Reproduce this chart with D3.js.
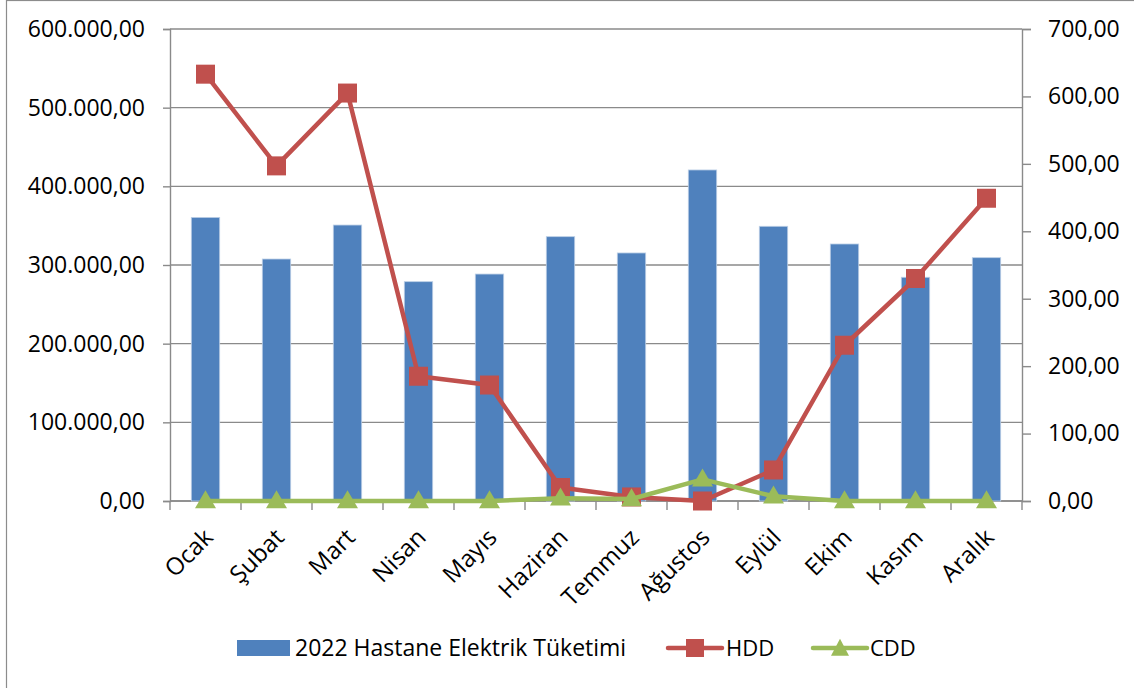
<!DOCTYPE html>
<html>
<head>
<meta charset="utf-8">
<script src="https://cdn.jsdelivr.net/npm/d3@7"></script>
<style>
  html, body { margin: 0; padding: 0; background: #fff; }
  svg { display: block; }
  text { font-family: "Open Sans", "Noto Sans", sans-serif; fill: #000; }
</style>
</head>
<body>
<svg id="chart" width="1134" height="688"></svg>
<script>
const months = ["Ocak", "Şubat", "Mart", "Nisan", "Mayıs", "Haziran", "Temmuz", "Ağustos", "Eylül", "Ekim", "Kasım", "Aralık"];
const electricity = [360500, 307600, 350800, 278800, 288500, 336000, 315300, 420800, 349200, 326700, 284400, 309300];
const hdd = [633, 497, 605, 185, 172, 20, 6, 0, 46, 231, 330, 449];
const cdd = [0, 0, 0, 0, 0, 4, 3, 32, 7, 0, 0, 0];
const leftTicks = [0, 100000, 200000, 300000, 400000, 500000, 600000];
const rightTicks = [0, 100, 200, 300, 400, 500, 600, 700];
const seriesNames = ["2022 Hastane Elektrik Tüketimi", "HDD", "CDD"];

const colors = { bar: "#4F81BD", hdd: "#C0504D", cdd: "#9BBB59", grid: "#8a8a8a" };

const trLocale = d3.formatLocale({ decimal: ",", thousands: ".", grouping: [3], currency: ["", " ₺"] });
const fmt = trLocale.format(",.2f");

const svg = d3.select("#chart");
const plot = { left: 170, right: 1022, top: 29, bottom: 501 };

// outer border
svg.append("rect").attr("x", 6.5).attr("y", 0.5).attr("width", 1200).attr("height", 800)
  .attr("fill", "none").attr("stroke", "#8c8c8c").attr("stroke-width", 1.2);

const x = d3.scaleBand().domain(months).range([plot.left, plot.right]).paddingInner(0).paddingOuter(0);
const yL = d3.scaleLinear().domain([0, 600000]).range([plot.bottom, plot.top]);
const yR = d3.scaleLinear().domain([0, 700]).range([plot.bottom, plot.top]);

// gridlines
svg.append("g").selectAll("line").data(leftTicks).join("line")
  .attr("x1", plot.left).attr("x2", plot.right)
  .attr("y1", d => yL(d)).attr("y2", d => yL(d))
  .attr("stroke", colors.grid).attr("stroke-width", 1.4);

// left axis
const axL = svg.append("g").attr("transform", `translate(${plot.left},0)`)
  .call(d3.axisLeft(yL).tickValues(leftTicks).tickFormat(fmt).tickSize(7).tickPadding(18));
axL.select(".domain").attr("stroke", colors.grid).attr("stroke-width", 1.4);
axL.selectAll(".tick line").attr("stroke", colors.grid).attr("stroke-width", 1.4);
axL.selectAll("text").attr("font-size", 23).attr("font-family", "Open Sans").attr("fill", "#000");

// right axis
const axR = svg.append("g").attr("transform", `translate(${plot.right},0)`)
  .call(d3.axisRight(yR).tickValues(rightTicks).tickFormat(fmt).tickSize(9).tickPadding(17));
axR.select(".domain").attr("stroke", colors.grid).attr("stroke-width", 1.4);
axR.selectAll(".tick line").attr("stroke", colors.grid).attr("stroke-width", 1.4);
axR.selectAll("text").attr("font-size", 23).attr("font-family", "Open Sans").attr("fill", "#000");

// bottom axis (ticks at category boundaries)
svg.append("line").attr("x1", plot.left).attr("x2", plot.right)
  .attr("y1", plot.bottom).attr("y2", plot.bottom).attr("stroke", colors.grid).attr("stroke-width", 1.4);
const boundaries = months.map(m => x(m)).concat([x(months[months.length - 1]) + x.bandwidth()]);
svg.append("g").selectAll("line").data(boundaries).join("line")
  .attr("x1", d => d).attr("x2", d => d).attr("y1", plot.bottom).attr("y2", plot.bottom + 9)
  .attr("stroke", colors.grid).attr("stroke-width", 1.4);

svg.append("g").selectAll("text").data(months).join("text")
  .attr("transform", d => `translate(${x(d) + x.bandwidth() / 2 + 3},${plot.bottom + 32}) rotate(-45)`)
  .attr("text-anchor", "end").attr("dy", "0.35em")
  .attr("font-size", 24).text(d => d);

// bars
const barW = x.bandwidth() * 0.4;
svg.append("g").selectAll("rect").data(electricity).join("rect")
  .attr("x", (d, i) => x(months[i]) + (x.bandwidth() - barW) / 2)
  .attr("y", d => yL(d)).attr("width", barW).attr("height", d => yL(0) - yL(d))
  .attr("fill", colors.bar).attr("stroke", "#bccfe6").attr("stroke-width", 0.8);

const cx = i => x(months[i]) + x.bandwidth() / 2;
const line = d3.line().x((d, i) => cx(i)).y(d => yR(d));

// HDD
svg.append("path").datum(hdd).attr("d", line).attr("fill", "none")
  .attr("stroke", colors.hdd).attr("stroke-width", 4.5).attr("stroke-linejoin", "round");
const sq = 19;
svg.append("g").selectAll("rect").data(hdd).join("rect")
  .attr("x", (d, i) => cx(i) - sq / 2).attr("y", d => yR(d) - sq / 2)
  .attr("width", sq).attr("height", sq).attr("fill", colors.hdd);

// CDD
svg.append("path").datum(cdd).attr("d", line).attr("fill", "none")
  .attr("stroke", colors.cdd).attr("stroke-width", 4.5).attr("stroke-linejoin", "round");
const tri = (w, h) => `M0,${-h * 0.6}L${w / 2},${h * 0.4}L${-w / 2},${h * 0.4}Z`;
svg.append("g").selectAll("path").data(cdd).join("path")
  .attr("transform", (d, i) => `translate(${cx(i)},${yR(d)})`)
  .attr("d", tri(21, 18)).attr("fill", colors.cdd);

// legend
const lg = svg.append("g");
const ly = 648;
lg.append("rect").attr("x", 237).attr("y", ly - 8).attr("width", 53).attr("height", 16).attr("fill", colors.bar);
lg.append("text").attr("x", 295).attr("y", ly).attr("dy", "0.35em").attr("font-size", 23).text(seriesNames[0]);

lg.append("line").attr("x1", 668).attr("x2", 722).attr("y1", ly).attr("y2", ly)
  .attr("stroke", colors.hdd).attr("stroke-width", 4.5).attr("stroke-linecap", "round");
lg.append("rect").attr("x", 695 - 9).attr("y", ly - 9).attr("width", 18).attr("height", 18).attr("fill", colors.hdd);
lg.append("text").attr("x", 726).attr("y", ly).attr("dy", "0.35em").attr("font-size", 22).text(seriesNames[1]);

lg.append("line").attr("x1", 813).attr("x2", 867).attr("y1", ly).attr("y2", ly)
  .attr("stroke", colors.cdd).attr("stroke-width", 4.5).attr("stroke-linecap", "round");
lg.append("path").attr("transform", `translate(840,${ly + 1})`).attr("d", tri(18, 17)).attr("fill", colors.cdd);
lg.append("text").attr("x", 870).attr("y", ly).attr("dy", "0.35em").attr("font-size", 22).text(seriesNames[2]);
</script>
</body>
</html>
